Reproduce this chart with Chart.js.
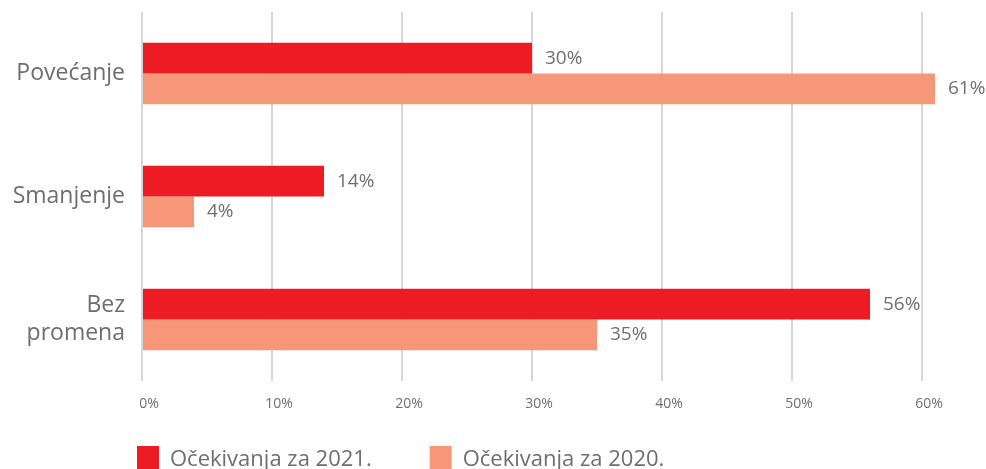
<!DOCTYPE html>
<html>
<head>
<meta charset="utf-8">
<script src="https://cdn.jsdelivr.net/npm/chart.js@4/dist/chart.umd.min.js"></script>
<style>
  html, body { margin: 0; padding: 0; background: #fff; }
  #wrap { width: 986px; height: 469px; position: relative; }
</style>
</head>
<body>
<div id="wrap"><canvas id="grafik"></canvas></div>
<script>
// Podaci
const kategorije = ["Povećanje", "Smanjenje", ["Bez", "promena"]];
const ocekivanja2021 = [30, 14, 56];
const ocekivanja2020 = [61, 4, 35];
const oznakeSerija = ["Očekivanja za 2021.", "Očekivanja za 2020."];
const oznakeX = ["0%", "10%", "20%", "30%", "40%", "50%", "60%"];

const sivaTekst = "#6d6e71";
const font = "'Open Sans', 'Noto Sans', sans-serif";
const razmakLegende = 58;

// Ispisuje vrednosti pored traka
const vrednostiPlugin = {
  id: "vrednosti",
  afterDatasetsDraw(chart) {
    const ctx = chart.ctx;
    ctx.save();
    ctx.font = "19px " + font;
    ctx.fillStyle = sivaTekst;
    ctx.textAlign = "left";
    ctx.textBaseline = "middle";
    chart.data.datasets.forEach((ds, i) => {
      chart.getDatasetMeta(i).data.forEach((bar, j) => {
        ctx.fillText(ds.data[j] + "%", bar.x + 13, bar.y);
      });
    });
    ctx.restore();
  }
};

// Legenda ide u donji levi ugao, ispod ose
const legendaPomak = {
  id: "legendaPomak",
  afterLayout(chart) {
    const l = chart.legend;
    const w = l.right - l.left;
    l.left = 137 - razmakLegende;
    l.right = l.left + w;
    l.top = 446 - razmakLegende;
    l.bottom = chart.height;
  }
};

new Chart(document.getElementById("grafik"), {
  type: "bar",
  data: {
    labels: kategorije,
    datasets: [
      { label: oznakeSerija[0], data: ocekivanja2021, backgroundColor: "#ed1c24" },
      { label: oznakeSerija[1], data: ocekivanja2020, backgroundColor: "#f5987a" }
    ]
  },
  options: {
    indexAxis: "y",
    responsive: true,
    maintainAspectRatio: false,
    animation: false,
    barPercentage: 1,
    categoryPercentage: 0.5,
    layout: { padding: { left: 0, right: 38, top: 12, bottom: 0 } },
    plugins: {
      tooltip: { enabled: false },
      legend: {
        position: "bottom",
        align: "start",
        maxHeight: 48,
        labels: {
          boxWidth: 22,
          boxHeight: 28,
          padding: razmakLegende,
          color: sivaTekst,
          font: { family: font, size: 22 }
        }
      }
    },
    scales: {
      x: {
        min: 0,
        max: 62,
        afterFit(scale) {
          scale.height = 40;
          scale.paddingLeft = 0;
          scale.paddingRight = 0;
        },
        border: { display: false },
        grid: { color: "#d6d6d6", lineWidth: 2, drawTicks: false },
        ticks: {
          stepSize: 10,
          includeBounds: false,
          padding: 15,
          labelOffset: 7,
          maxRotation: 0,
          autoSkip: false,
          color: sivaTekst,
          font: { family: font, size: 14 },
          callback: (v, i) => oznakeX[i]
        }
      },
      y: {
        afterFit(scale) {
          scale.width = 142;
          scale.paddingTop = 0;
          scale.paddingBottom = 0;
        },
        border: { display: false },
        grid: { display: false, drawTicks: false },
        ticks: {
          padding: 17,
          color: sivaTekst,
          font: { family: font, size: 23, lineHeight: 1.2 }
        }
      }
    }
  },
  plugins: [vrednostiPlugin, legendaPomak]
});
</script>
</body>
</html>
